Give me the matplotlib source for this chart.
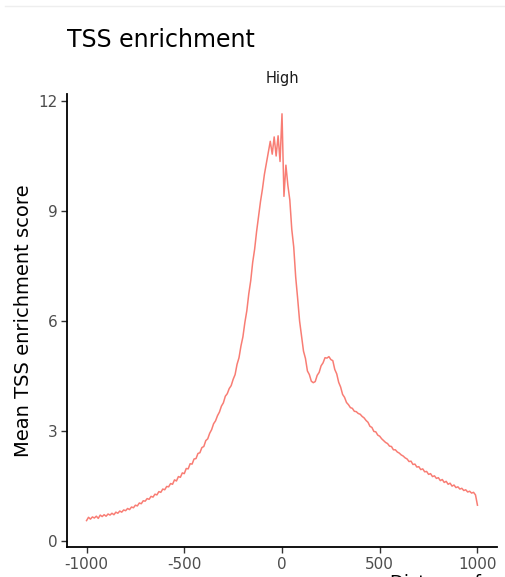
import matplotlib
matplotlib.use("Agg")
import matplotlib.pyplot as plt
from matplotlib.lines import Line2D

# Distance from TSS (bp), 10 bp bins
positions = list(range(-1000, 1001, 10))

# Mean TSS enrichment score per bin
scores = [
    0.56, 0.65, 0.60, 0.66, 0.63, 0.68, 0.62, 0.71, 0.67, 0.72,   # -1000 .. -910
    0.68, 0.74, 0.71, 0.76, 0.72, 0.79, 0.76, 0.82, 0.79, 0.85,   # -900 .. -810
    0.83, 0.89, 0.86, 0.93, 0.91, 0.98, 0.96, 1.04, 1.02, 1.10,   # -800 .. -710
    1.09, 1.16, 1.14, 1.22, 1.20, 1.28, 1.26, 1.35, 1.33, 1.42,   # -700 .. -610
    1.40, 1.49, 1.48, 1.57, 1.55, 1.67, 1.64, 1.76, 1.74, 1.86,   # -600 .. -510
    1.84, 1.98, 1.97, 2.11, 2.10, 2.24, 2.25, 2.39, 2.41, 2.55,   # -500 .. -410
    2.58, 2.74, 2.79, 2.94, 3.04, 3.20, 3.28, 3.42, 3.52, 3.68,   # -400 .. -310
    3.77, 3.95, 4.02, 4.16, 4.24, 4.41, 4.54, 4.82, 5.00, 5.32,   # -300 .. -210
    5.57, 5.96, 6.28, 6.74, 7.10, 7.60, 7.96, 8.44, 8.84, 9.26,   # -200 .. -110
    9.60, 10.00, 10.30, 10.60, 10.90, 10.55, 11.02, 10.50, 11.05, 10.35,  # -100 .. -10
    11.65, 9.40, 10.25, 9.70, 9.30, 8.50, 8.02, 7.20, 6.62, 6.00,  # 0 .. 90
    5.58, 5.18, 4.98, 4.64, 4.54, 4.36, 4.32, 4.35, 4.52, 4.60,   # 100 .. 190
    4.78, 4.86, 5.00, 4.99, 5.03, 4.95, 4.92, 4.68, 4.56, 4.33,   # 200 .. 290
    4.20, 4.00, 3.92, 3.78, 3.72, 3.64, 3.62, 3.54, 3.53, 3.48,   # 300 .. 390
    3.46, 3.40, 3.36, 3.29, 3.24, 3.13, 3.10, 2.99, 2.98, 2.89,   # 400 .. 490
    2.86, 2.79, 2.74, 2.69, 2.66, 2.59, 2.58, 2.49, 2.49, 2.43,   # 500 .. 590
    2.40, 2.35, 2.32, 2.27, 2.24, 2.17, 2.18, 2.09, 2.10, 2.02,   # 600 .. 690
    2.03, 1.95, 1.97, 1.89, 1.90, 1.82, 1.84, 1.76, 1.78, 1.71,   # 700 .. 790
    1.73, 1.65, 1.68, 1.60, 1.63, 1.55, 1.58, 1.50, 1.53, 1.46,   # 800 .. 890
    1.48, 1.42, 1.44, 1.38, 1.40, 1.34, 1.36, 1.31, 1.33, 1.26,   # 900 .. 990
    0.98,                                                          # 1000
]

x_ticks = [-1000, -500, 0, 500, 1000]
x_tick_labels = ["-1000", "-500", "0", "500", "1000"]
y_ticks = [0, 3, 6, 9, 12]
y_tick_labels = ["0", "3", "6", "9", "12"]

title = "TSS enrichment"
facet_label = "High"
y_label = "Mean TSS enrichment score"
x_label = "Distance from TSS (bp)"
line_color = "#F8766D"

plt.rcParams["font.family"] = ["DejaVu Sans"]

W, H = 506, 577
fig = plt.figure(figsize=(W / 100, H / 100), dpi=100)

left, right, top, bottom = 67, 497, 94, 547
ax = fig.add_axes([left / W, 1 - bottom / H, (right - left) / W, (bottom - top) / H])

ax.plot(positions, scores, color=line_color, lw=1.1, alpha=0.95)

ax.set_xlim(-1100, 1100)
ax.set_ylim(-0.16, 12.19)
ax.set_xticks(x_ticks)
ax.set_xticklabels(x_tick_labels)
ax.set_yticks(y_ticks)
ax.set_yticklabels(y_tick_labels)

for s in ["top", "right"]:
    ax.spines[s].set_visible(False)
for s in ["left", "bottom"]:
    ax.spines[s].set_linewidth(1.3)
    ax.spines[s].set_color("black")

ax.tick_params(axis="both", length=4, width=1.0, color="#333333",
               labelsize=11, labelcolor="#4D4D4D", pad=3)

# facet strip label
ax.text(0.5, 1.0 + 16 / (bottom - top), facet_label, transform=ax.transAxes,
        ha="center", va="center", fontsize=10.5, color="#1A1A1A")

# title
fig.text(67 / W, 1 - 40 / H, title, ha="left", va="center", fontsize=17, color="black")

# y label
fig.text(24 / W, 1 - 321 / H, y_label, ha="center", va="center", rotation=90,
         fontsize=14, color="black")

# x label (mostly clipped at bottom, as in the reference)
fig.text(390 / W, 1 - 574 / H, x_label, ha="left", va="top", fontsize=13, color="black")

# faint top border line
fig.add_artist(Line2D([5 / W, 505 / W], [1 - 6 / H, 1 - 6 / H], transform=fig.transFigure,
                      color="#EEEEEE", lw=1.0))

fig.savefig("out.png", dpi=100)
